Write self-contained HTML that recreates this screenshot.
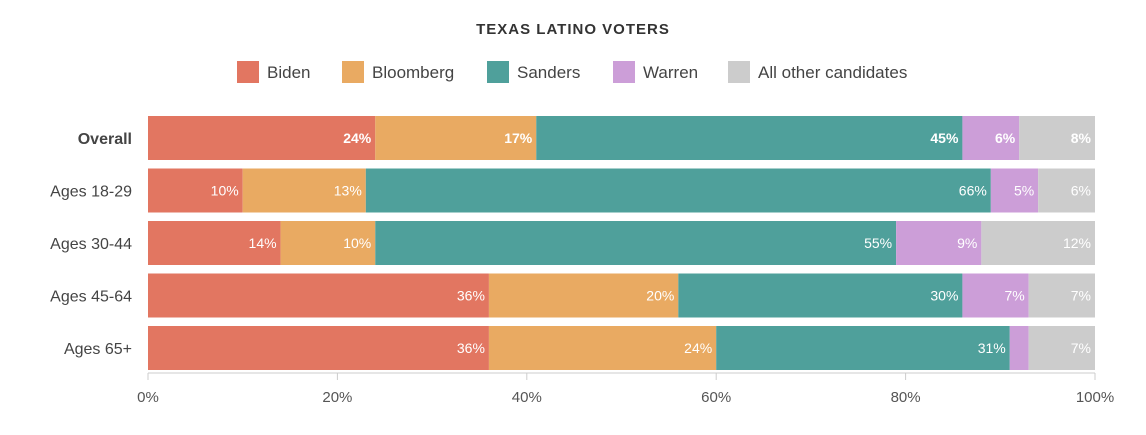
<!DOCTYPE html>
<html><head><meta charset="utf-8"><style>
body{margin:0;background:#fff;font-family:"Liberation Sans",sans-serif;}
</style></head><body>
<svg id="chart" width="1146" height="430" xmlns="http://www.w3.org/2000/svg">
<text x="573" y="34" text-anchor="middle" font-size="15" font-weight="bold" fill="#333" letter-spacing="1">TEXAS LATINO VOTERS</text>
<g id="legend"></g>
<g id="grid"></g><g id="bars"></g><g id="axis"></g>
</svg>
<script>
const categories=["Overall","Ages 18-29","Ages 30-44","Ages 45-64","Ages 65+"];
const seriesNames=["Biden","Bloomberg","Sanders","Warren","All other candidates"];
const biden=[24,10,14,36,36];
const bloomberg=[17,13,10,20,24];
const sanders=[45,66,55,30,31];
const warren=[6,5,9,7,2];
const others=[8,6,12,7,7];
const ticks=[0,20,40,60,80,100];
const series=[biden,bloomberg,sanders,warren,others];
const colors=["#e27661","#e9aa62","#4fa09b","#cc9ed8","#cccccc"];
const NS="http://www.w3.org/2000/svg";
const x0=148,x1=1095;
const xs=v=>x0+(x1-x0)*v/100;
const rowTop=i=>116+i*52.5, bh=44;
function mk(t,a,p){const e=document.createElementNS(NS,t);for(const k in a)e.setAttribute(k,a[k]);p.appendChild(e);return e;}
// legend
const lg=document.getElementById('legend');
const lx=[237,342,487,613,728];
seriesNames.forEach((n,i)=>{
 const r=mk('rect',{x:lx[i],y:61,width:22,height:22,fill:colors[i]},lg);
 
 
 const t=mk('text',{x:lx[i]+30,y:78,'font-size':17,fill:'#444'},lg);t.textContent=n;
 
 
});
// grid & axis
const gr=document.getElementById('grid'),ax=document.getElementById('axis');
ticks.forEach(v=>{
 const l=mk('line',{x1:xs(v),x2:xs(v),y1:373,y2:380,stroke:'#ccc'},ax);
 
 
 const t=mk('text',{x:xs(v),y:402,'text-anchor':'middle','font-size':15,fill:'#555'},ax);t.textContent=v+'%';
 
 
});
const al=mk('line',{x1:x0,x2:x1,y1:373,y2:373,stroke:'#ccc'},ax);


// bars
const bg=document.getElementById('bars');
categories.forEach((c,i)=>{
 const y=rowTop(i);
 const lab=mk('text',{x:132,y:y+bh/2+6,'text-anchor':'end','font-size':16,fill:'#444','font-weight':i==0?'bold':'normal'},bg);
 lab.textContent=c;
 
 
 let acc=0;
 series.forEach((s,j)=>{
  const v=s[i];
  const r=mk('rect',{x:xs(acc),y:y,width:xs(acc+v)-xs(acc),height:bh,fill:colors[j]},bg);
  
  
  acc+=v;
  if(v>=4){
   const t=mk('text',{x:xs(acc)-4,y:y+bh/2+5,'text-anchor':'end','font-size':14,fill:'#fff','font-weight':i==0?'bold':'normal'},bg);
   t.textContent=v+'%';
   
   
  }
 });
});
</script>
</body></html>
